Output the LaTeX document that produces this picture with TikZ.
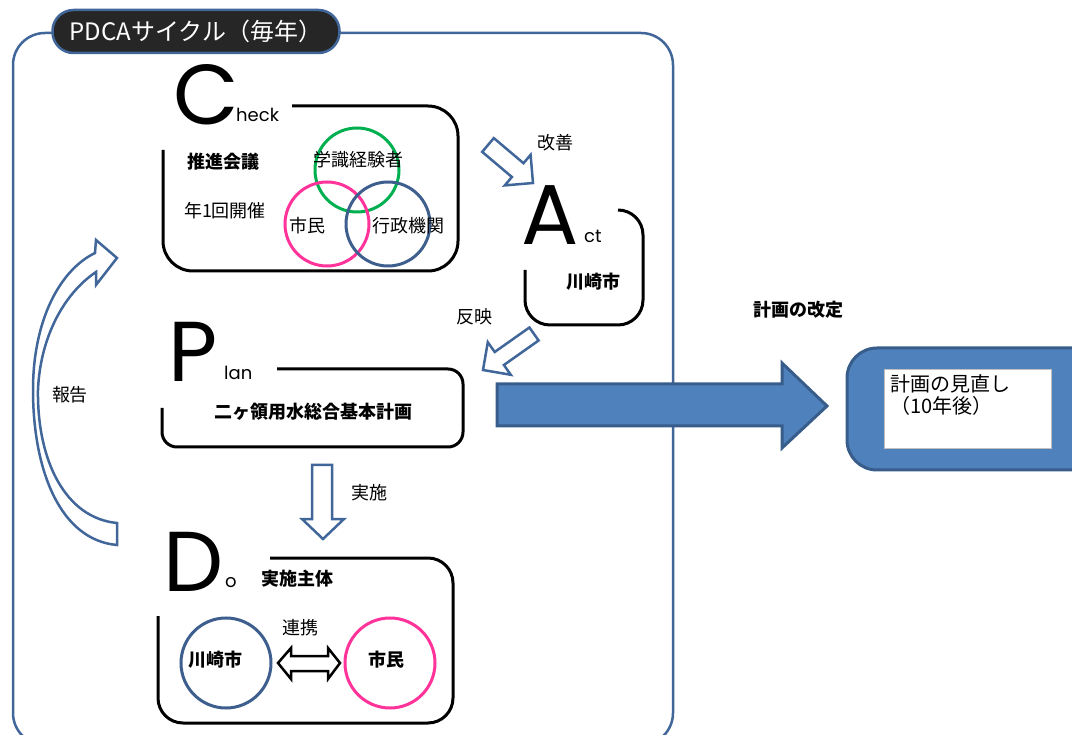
\documentclass[tikz,border=0pt]{standalone}
\usepackage{fontspec}
\setmainfont{Noto Sans CJK JP}
\newfontfamily\letterfont{Poppins}
\usetikzlibrary{positioning}

\definecolor{frameblue}{HTML}{41669A}
\definecolor{tabblack}{HTML}{262626}
\definecolor{circgreen}{HTML}{00B050}
\definecolor{circpink}{HTML}{FF3399}
\definecolor{circblue}{HTML}{3E5F8E}
\definecolor{fillblue}{HTML}{4F81BD}
\definecolor{edgeblue}{HTML}{385D8A}

\tikzset{
	lbl/.style={inner sep=0, font=\fontsize{18}{21}\selectfont},
	lblb/.style={inner sep=0, font=\fontsize{18}{21}\selectfont\bfseries},
	bigletter/.style={anchor=base west, inner sep=0, font=\letterfont\fontsize{85}{85}\selectfont},
	smallletter/.style={anchor=base west, inner sep=0, font=\letterfont\fontsize{18}{18}\selectfont},
	stagebox/.style={line width=3pt, black},
	ring/.style={circle, line width=3pt, minimum size=84pt, inner sep=0},
	hollowarrow/.style={draw=frameblue, line width=2.5pt, fill=white, line join=miter}
}

\begin{document}
\begin{tikzpicture}[x=1pt, y=-1pt]
		\useasboundingbox (0,0) rectangle (1072,735);
		% frame of the cycle
		\draw[frameblue, line width=2.5pt, rounded corners=32] (13,33) rectangle (673,745);
		\node[rounded corners=21, fill=tabblack, draw=frameblue, line width=2.5pt, minimum width=287pt, minimum height=43pt, text=white, font=\fontsize{24}{26}\selectfont] (title) at (196,31.5) {PDCAサイクル（毎年）};

		% Check
		\node[bigletter] (bigC) at (173,125) {C};
		\node[smallletter] (heck) at (236,122) {heck};
		\draw[stagebox, rounded corners=30] (292,106) -- (458,106) -- (458,271) -- (163,271) -- (163,150);
		\node[ring, draw=circgreen] (gakushiki) at (357,170) {};
		\node[ring, draw=circpink] (shiminC) at (327,224) {};
		\node[ring, draw=circblue] (gyosei) at (388,224) {};
		\node[lblb] (suishin) at (223,162) {推進会議};
		\node[lbl] (kaisai) at (225,211) {年1回開催};
		\node[lbl] (gakushikiT) at (358,160) {学識経験者};
		\node[lbl] (shiminCT) at (307,226) {市民};
		\node[lbl] (gyoseiT) at (408,226) {行政機関};

		% Act
		\node[bigletter] (bigA) at (521,245) {A};
		\node[smallletter] (ct) at (584,243) {ct};
		\draw[stagebox, rounded corners=25] (618,210) -- (643,210) -- (643,325) -- (525,325) -- (525,270);
		\node[lblb] (kawasakiA) at (593,282) {川崎市};
		\draw[hollowarrow] (482.2,151.9) -- (511.9,177.0) -- (504.8,185.4) -- (533,183) -- (530.6,154.8) -- (523.5,163.2) -- (493.8,138.1) -- cycle;
		\node[lbl] (kaizen) at (555,143) {改善};
		\draw[hollowarrow] (529.4,327.5) -- (494.7,352.0) -- (487.8,342.2) -- (483,370) -- (510.8,374.8) -- (503.9,365.0) -- (538.6,340.5) -- cycle;
		\node[lbl] (hanei) at (474,317) {反映};

		% Plan
		\node[bigletter] (bigP) at (168,382) {P};
		\node[smallletter] (lan) at (224,380) {lan};
		\draw[stagebox, rounded corners=15] (277,369) -- (463,369) -- (463,447) -- (162,447) -- (162,408);
		\node[lblb] (keikaku) at (313,412) {二ヶ領用水総合基本計画};
		\draw[hollowarrow] (312,465) -- (332,465) -- (332,519) -- (344,519) -- (323,539) -- (302,519) -- (312,519) -- cycle;
		\node[lbl] (jisshi) at (369,493) {実施};

		% Do
		\node[bigletter] (bigD) at (163,591) {D};
		\node[smallletter] (o) at (225,587) {o};
		\draw[stagebox, rounded corners=25] (270,558) -- (453,558) -- (453,723) -- (158,723) -- (158,616);
		\node[lblb] (shutai) at (297,579) {実施主体};
		\node[ring, draw=circblue, minimum size=90pt] (kawasakiD) at (226,663) {};
		\node[ring, draw=circpink, minimum size=90pt] (shiminD) at (390,663) {};
		\node[lblb] (kawasakiDT) at (215,660) {川崎市};
		\node[lblb] (shiminDT) at (386,660) {市民};
		\node[lbl] (renkei) at (300,628) {連携};
		\draw[line width=2.5pt, fill=white] (278,663) -- (291,648) -- (291,656) -- (328,656) -- (328,648) -- (340,663) -- (328,679) -- (328,671) -- (291,671) -- (291,679) -- cycle;

		% report back to Check
		\draw[hollowarrow] (117,545) .. controls (60,540) and (33,470) .. (33,390) .. controls (33,320) and (60,270) .. (95,253) -- (96,240) -- (117,258) -- (96,285) -- (96,272) .. controls (62,295) and (40,340) .. (38,390) .. controls (37,460) and (65,518) .. (117,523) -- cycle;
		\node[lbl] (hokoku) at (70,395) {報告};

		% revision after ten years
		\draw[fill=fillblue, draw=edgeblue, line width=3pt] (497,384) -- (782,384) -- (782,363) -- (827,406) -- (782,448) -- (782,426) -- (497,426) -- cycle;
		\node[lblb] (kaitei) at (798,310) {計画の改定};
		\draw[fill=fillblue, draw=edgeblue, line width=3pt, rounded corners=30] (847,348) rectangle (1110,470);
		\draw[fill=white, draw=gray!50, line width=1pt] (884,370) rectangle (1051,449);
		\node[inner sep=0, anchor=north west, align=left, font=\fontsize{20}{22}\selectfont] (minaoshi) at (890,374) {計画の見直し\\（10年後）};
	\end{tikzpicture}
\end{document}
